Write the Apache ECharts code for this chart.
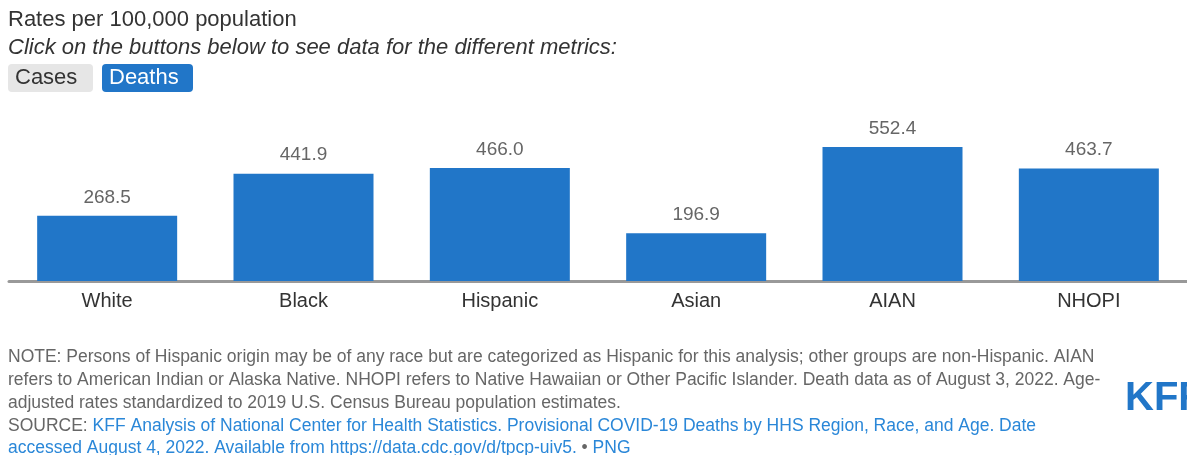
<!DOCTYPE html>
<html>
<head>
<meta charset="utf-8">
<script src="https://cdn.jsdelivr.net/npm/echarts@6/dist/echarts.min.js"></script>
<style>
  html, body { margin: 0; padding: 0; background: #fff; }
  #chart { width: 1187px; height: 455px; }
</style>
</head>
<body>
<div id="chart"></div>
<script>
var categories = ['White', 'Black', 'Hispanic', 'Asian', 'AIAN', 'NHOPI'];
var deathRates = [268.5, 441.9, 466.0, 196.9, 552.4, 463.7];

var noteLines = [
  'NOTE: Persons of Hispanic origin may be of any race but are categorized as Hispanic for this analysis; other groups are non-Hispanic. AIAN',
  'refers to American Indian or Alaska Native. NHOPI refers to Native Hawaiian or Other Pacific Islander. Death data as of August 3, 2022. Age-',
  'adjusted rates standardized to 2019 U.S. Census Bureau population estimates.'
];
var sourceLine1 = 'KFF Analysis of National Center for Health Statistics. Provisional COVID-19 Deaths by HHS Region, Race, and Age. Date';
var sourceLine2 = 'accessed August 4, 2022. Available from https://data.cdc.gov/d/tpcp-uiv5.';

var FONT = '"Liberation Sans", Arial, Helvetica, sans-serif';
var NOTE_FONT = '17.5px ' + FONT;
var chart = echarts.init(document.getElementById('chart'));

var graphics = [
  { type: 'text', left: 8, top: 9, style: { text: 'Rates per 100,000 population', font: '22px ' + FONT, fill: '#333' } },
  { type: 'text', left: 8, top: 37, style: { text: 'Click on the buttons below to see data for the different metrics:', font: 'italic 22px ' + FONT, fill: '#333' } },
  { type: 'rect', shape: { x: 8, y: 64, width: 85, height: 28, r: 4 }, style: { fill: '#e6e6e6' } },
  { type: 'text', left: 15, top: 67, style: { text: 'Cases', font: '22px ' + FONT, fill: '#333' } },
  { type: 'rect', shape: { x: 102, y: 64, width: 91, height: 28, r: 4 }, style: { fill: '#2176c8' } },
  { type: 'text', left: 109, top: 67, style: { text: 'Deaths', font: '22px ' + FONT, fill: '#fff' } }
];
noteLines.forEach(function (t, i) {
  graphics.push({ type: 'text', left: 8, top: 348 + i * 23, style: { text: t, font: NOTE_FONT, fill: '#666' } });
});
graphics.push({
  type: 'text', left: 8, top: 417,
  style: { text: '{s|SOURCE: }{l|' + sourceLine1 + '}', font: NOTE_FONT,
    rich: { s: { fill: '#666', font: NOTE_FONT }, l: { fill: '#2a87d8', font: NOTE_FONT } } }
});
graphics.push({
  type: 'text', left: 8, top: 439,
  style: { text: '{l|' + sourceLine2 + '}{s| • }{l|PNG}', font: NOTE_FONT,
    rich: { s: { fill: '#666', font: NOTE_FONT }, l: { fill: '#2a87d8', font: NOTE_FONT } } }
});
graphics.push({ type: 'text', left: 1125, top: 379, style: { text: 'KFF', font: 'bold 40px "Liberation Sans Narrow", ' + FONT, fill: '#2176c8' } });

chart.setOption({
  animation: false,
  grid: { left: 9, width: 1194, top: 99, height: 182 },
  xAxis: {
    type: 'category',
    data: categories,
    axisLine: { lineStyle: { color: '#999', width: 3 } },
    axisTick: { show: false },
    axisLabel: { color: '#333', fontSize: 20, fontFamily: FONT, margin: 10 }
  },
  yAxis: {
    type: 'value',
    min: 0,
    max: 750,
    show: false,
    splitLine: { show: false }
  },
  series: [{
    type: 'bar',
    data: deathRates,
    barWidth: 140,
    itemStyle: { color: '#2176c8' },
    label: {
      show: true,
      position: 'top',
      distance: 9,
      color: '#666',
      fontSize: 19,
      fontFamily: FONT,
      formatter: function (p) { return p.value.toFixed(1); }
    }
  }],
  graphic: graphics
});
</script>
</body>
</html>
